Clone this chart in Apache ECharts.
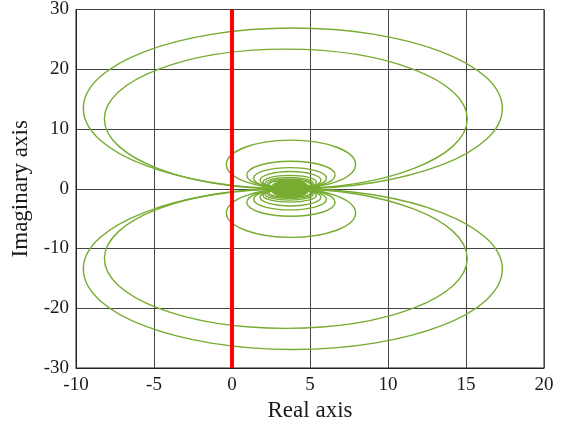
<!DOCTYPE html>
<html>
<head>
<meta charset="utf-8">
<script src="https://cdn.jsdelivr.net/npm/echarts@6/dist/echarts.min.js"></script>
<style>
html,body{margin:0;padding:0;background:#fff;}
#c{width:566px;height:428px;}
</style>
</head>
<body>
<div id="c"></div>
<script>
// Axis ticks
const xTicks = [-10, -5, 0, 5, 10, 15, 20];
const yTicks = [-30, -20, -10, 0, 10, 20, 30];

// Upper loops: centre x, centre y, half-width, half-height
const upperLoopCenterX = [3.9, 3.45, 3.78, 3.78, 3.72, 3.75, 3.7, 3.67, 3.7, 3.7];
const upperLoopCenterY = [13.45, 11.68, 4.07, 2.3, 1.77, 1.44, 1.12, 0.95, 0.82, 0.72];
const upperLoopRadiusX = [13.43, 11.63, 4.14, 2.83, 2.33, 1.95, 1.71, 1.53, 1.42, 1.33];
const upperLoopRadiusY = [13.45, 11.68, 4.07, 2.3, 1.77, 1.44, 1.12, 0.95, 0.82, 0.72];

// Lower loops (mirror image in the picture)
const lowerLoopCenterX = [3.9, 3.45, 3.78, 3.78, 3.72, 3.75, 3.7, 3.67, 3.7, 3.7];
const lowerLoopCenterY = [-13.45, -11.68, -4.07, -2.3, -1.77, -1.44, -1.12, -0.95, -0.82, -0.72];
const lowerLoopRadiusX = [13.43, 11.63, 4.14, 2.83, 2.33, 1.95, 1.71, 1.53, 1.42, 1.33];
const lowerLoopRadiusY = [13.45, 11.68, 4.07, 2.3, 1.77, 1.44, 1.12, 0.95, 0.82, 0.72];

// Dense core where the loops accumulate
const coreCenterX = [3.72];
const coreCenterY = [0];
const coreRadiusX = [1.25];
const coreRadiusY = [1.5];

// Red vertical line at Re = 0
const redLineX = [0, 0];
const redLineY = [-30, 30];

const loopData = [];
upperLoopCenterX.forEach((v, i) => loopData.push([v, upperLoopCenterY[i], upperLoopRadiusX[i], upperLoopRadiusY[i]]));
lowerLoopCenterX.forEach((v, i) => loopData.push([v, lowerLoopCenterY[i], lowerLoopRadiusX[i], lowerLoopRadiusY[i]]));
const coreData = coreCenterX.map((v, i) => [v, coreCenterY[i], coreRadiusX[i], coreRadiusY[i]]);
const redData = redLineX.map((v, i) => [v, redLineY[i]]);

const GREEN = '#77AC30';
function ellipseRenderer(filled) {
  return function (params, api) {
    const c = api.coord([api.value(0), api.value(1)]);
    const s = api.size([api.value(2), api.value(3)]);
    return {
      type: 'ellipse',
      shape: { cx: c[0], cy: c[1], rx: s[0], ry: s[1] },
      style: filled ? { fill: GREEN, stroke: GREEN, lineWidth: 1 }
                    : { fill: 'none', stroke: GREEN, lineWidth: 1.4 }
    };
  };
}

const FONT = '"Liberation Serif", "Times New Roman", serif';
const chart = echarts.init(document.getElementById('c'), null, { renderer: 'canvas' });
chart.setOption({
  backgroundColor: '#ffffff',
  animation: false,
  grid: { left: 76, top: 9, width: 468, height: 359, show: true, borderColor: '#222', borderWidth: 1, backgroundColor: 'transparent' },
  xAxis: {
    type: 'value', min: xTicks[0], max: xTicks[xTicks.length - 1], interval: 5,
    name: 'Real axis', nameLocation: 'middle', nameGap: 30,
    nameTextStyle: { fontFamily: FONT, fontSize: 23, color: '#1a1a1a' },
    axisLine: { show: true, onZero: false, lineStyle: { color: '#222', width: 1 } },
    axisTick: { show: false },
    axisLabel: { fontFamily: FONT, fontSize: 19, color: '#1a1a1a', margin: 8 },
    splitLine: { show: true, lineStyle: { color: '#444', width: 1 } }
  },
  yAxis: {
    type: 'value', min: yTicks[0], max: yTicks[yTicks.length - 1], interval: 10,
    name: 'Imaginary axis', nameLocation: 'middle', nameGap: 40,
    nameTextStyle: { fontFamily: FONT, fontSize: 23, color: '#1a1a1a' },
    axisLine: { show: true, onZero: false, lineStyle: { color: '#222', width: 1 } },
    axisTick: { show: false },
    axisLabel: { fontFamily: FONT, fontSize: 19, color: '#1a1a1a', margin: 7 },
    splitLine: { show: true, lineStyle: { color: '#444', width: 1 } }
  },
  series: [
    { type: 'custom', renderItem: ellipseRenderer(false), data: loopData, z: 3, silent: true },
    { type: 'custom', renderItem: ellipseRenderer(true), data: coreData, z: 3, silent: true },
    { type: 'line', data: redData, showSymbol: false, symbol: 'none', z: 5,
      lineStyle: { color: '#ff0000', width: 4 }, silent: true }
  ]
});
</script>
</body>
</html>
